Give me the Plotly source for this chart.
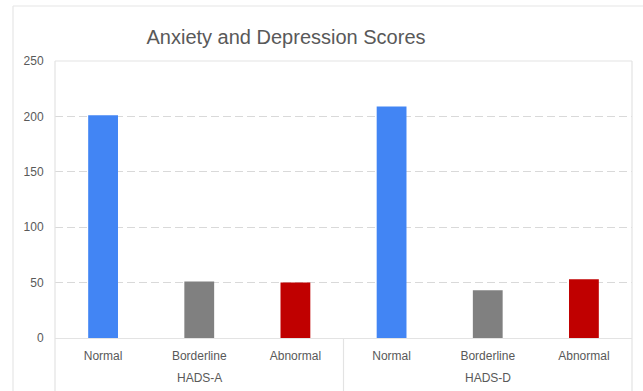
import plotly.graph_objects as go

categories = ["Normal", "Borderline", "Abnormal", "Normal", "Borderline", "Abnormal"]
groups = ["HADS-A", "HADS-D"]
values = [201, 51, 50, 209, 43, 53]
colors = ["#4285F4", "#808080", "#C00000", "#4285F4", "#808080", "#C00000"]
y_ticks = [0, 50, 100, 150, 200, 250]

positions = list(range(len(categories)))

W, H = 643, 391
L, R, T, B = 55, 11, 61, 53
pw, ph = W - L - R, H - T - B

def px_x(x):
    # pixel x (from left) -> plot paper fraction
    return (x - L) / pw

def px_y(y):
    # pixel y (from top) -> plot paper fraction
    return (H - B - y) / ph

fig = go.Figure()
fig.add_trace(go.Bar(
    x=positions, y=values, marker=dict(color=colors, line=dict(width=0)),
    width=0.31, hoverinfo="skip",
))

line_col = "#e3e3e3"
font_col = "#595959"
shapes = [
    dict(type="line", xref="paper", yref="paper", x0=0, x1=1, y0=1, y1=1,
         line=dict(color=line_col, width=1.2)),
    dict(type="line", xref="paper", yref="paper", x0=0, x1=0, y0=px_y(H + 2), y1=1,
         line=dict(color=line_col, width=1.2)),
    dict(type="line", xref="paper", yref="paper", x0=1, x1=1, y0=px_y(H + 2), y1=1,
         line=dict(color=line_col, width=1.2)),
    dict(type="line", xref="x", yref="paper", x0=2.5, x1=2.5, y0=px_y(H + 2), y1=0,
         line=dict(color=line_col, width=1.2)),
    dict(type="line", xref="paper", yref="paper", x0=px_x(13), x1=px_x(13), y0=px_y(H + 2), y1=px_y(6),
         line=dict(color="#e6e6e6", width=1.2)),
    dict(type="line", xref="paper", yref="paper", x0=px_x(13), x1=px_x(W + 5), y0=px_y(6), y1=px_y(6),
         line=dict(color="#e6e6e6", width=1.2)),
]

annotations = []
for i, g in enumerate(groups):
    annotations.append(dict(
        x=1 + 3 * i, xref="x", y=px_y(378), yref="paper", text=g, showarrow=False,
        font=dict(family="Liberation Sans, Arial", size=12, color=font_col),
        xanchor="center", yanchor="middle",
    ))

fig.update_layout(
    width=W, height=H,
    margin=dict(l=L, r=R, t=T, b=B, pad=0),
    paper_bgcolor="white", plot_bgcolor="white",
    showlegend=False,
    title=dict(text="Anxiety and Depression Scores", x=286 / W, xanchor="center",
               y=(H - 37) / H, yanchor="middle",
               font=dict(family="Liberation Sans, Arial", size=20, color=font_col)),
    xaxis=dict(range=[-0.5, 5.5], tickvals=positions, ticktext=categories,
               showgrid=False, zeroline=False, showline=True, linecolor=line_col, linewidth=1.2,
               ticks="outside", ticklen=6, tickcolor="rgba(0,0,0,0)",
               tickfont=dict(family="Liberation Sans, Arial", size=12, color=font_col),
               fixedrange=True),
    yaxis=dict(range=[0, 250], tickvals=y_ticks, showgrid=True, gridcolor="#d9d9d9",
               griddash="8px,4px", gridwidth=1, zeroline=False, showline=False,
               ticks="outside", ticklen=8, tickcolor="rgba(0,0,0,0)",
               tickfont=dict(family="Liberation Sans, Arial", size=12, color=font_col),
               fixedrange=True),
    shapes=shapes,
    annotations=annotations,
)

fig.write_html("out.html", config={"displayModeBar": False})
